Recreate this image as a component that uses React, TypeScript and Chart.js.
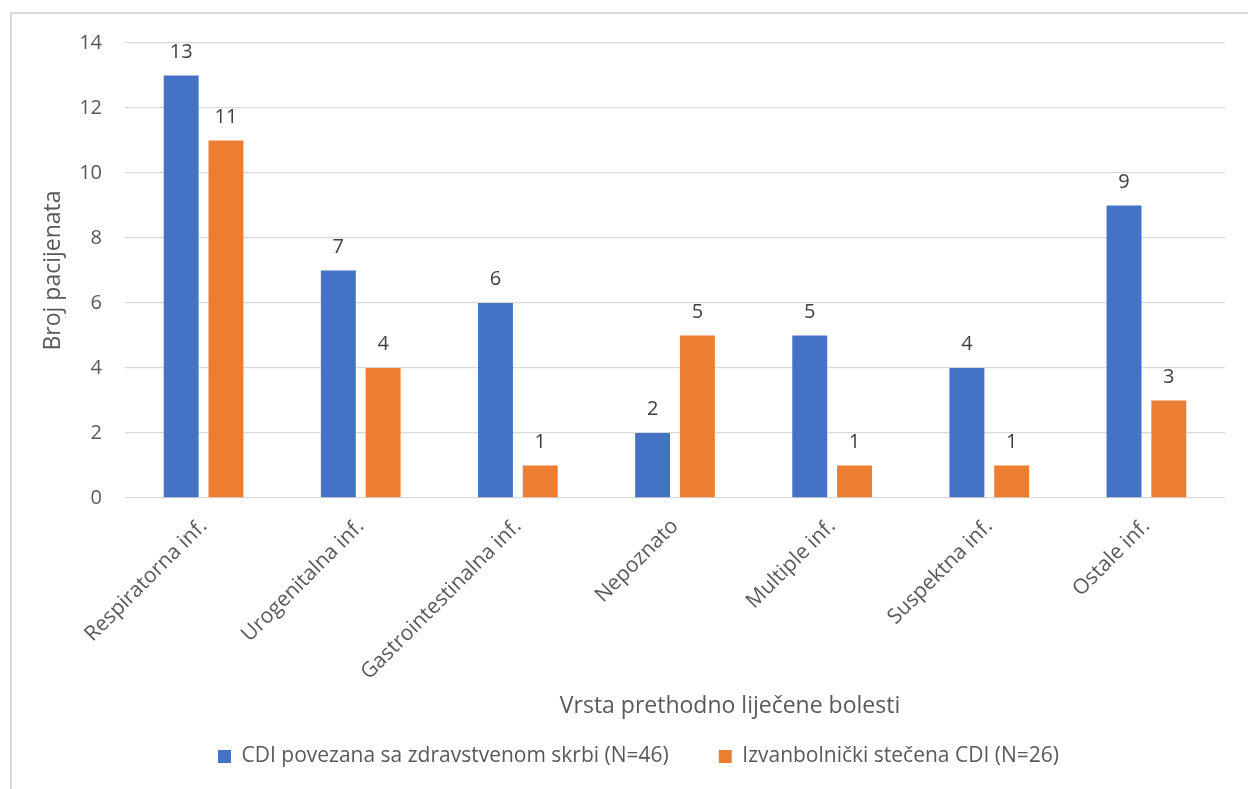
import React, { useEffect, useRef } from "react";
import { Chart, registerables } from "chart.js";

Chart.register(...registerables);

const categories = [
  "Respiratorna inf.",
  "Urogenitalna inf.",
  "Gastrointestinalna inf.",
  "Nepoznato",
  "Multiple inf.",
  "Suspektna inf.",
  "Ostale inf.",
];
const healthcareValues = [13, 7, 6, 2, 5, 4, 9];
const communityValues = [11, 4, 1, 5, 1, 1, 3];
const seriesLabels = [
  "CDI povezana sa zdravstvenom skrbi (N=46)",
  "Izvanbolnički stečena CDI (N=26)",
];
const seriesColors = ["#4472C4", "#ED7D31"];
const yMin = 0;
const yMax = 14;
const yStep = 2;
const xTitle = "Vrsta prethodno liječene bolesti";
const yTitle = "Broj pacijenata";

const FONT = "'Open Sans', sans-serif";
const TEXT = "#595959";

const dataLabelPlugin = {
  id: "dataLabels",
  afterDatasetsDraw(chart: any) {
    const ctx = chart.ctx;
    ctx.save();
    ctx.font = `20px ${FONT}`;
    ctx.fillStyle = "#404040";
    ctx.textAlign = "center";
    ctx.textBaseline = "alphabetic";
    chart.data.datasets.forEach((ds: any, i: number) => {
      const meta = chart.getDatasetMeta(i);
      meta.data.forEach((bar: any, j: number) => {
        ctx.fillText(String(ds.data[j]), bar.x, bar.y - 18);
      });
    });
    ctx.restore();
  },
};

const xTitlePlugin = {
  id: "xTitle",
  afterDraw(chart: any) {
    const ctx = chart.ctx;
    const area = chart.chartArea;
    ctx.save();
    ctx.font = `23px ${FONT}`;
    ctx.fillStyle = TEXT;
    ctx.textAlign = "center";
    ctx.textBaseline = "middle";
    ctx.fillText(xTitle, (area.left + area.right) / 2 + 55, area.bottom + 208);
    ctx.restore();
  },
};

const legendShiftPlugin = {
  id: "legendShift",
  afterLayout(chart: any) {
    if (chart.legend) {
      chart.legend.left += 6;
      chart.legend.right += 6;
    }
  },
};

export default function App() {
  const ref = useRef<HTMLCanvasElement | null>(null);

  useEffect(() => {
    if (!ref.current) return;
    const chart = new Chart(ref.current, {
      type: "bar",
      data: {
        labels: categories,
        datasets: [
          {
            label: seriesLabels[0],
            data: healthcareValues,
            backgroundColor: seriesColors[0],
            barPercentage: 0.78,
            categoryPercentage: 0.57,
          },
          {
            label: seriesLabels[1],
            data: communityValues,
            backgroundColor: seriesColors[1],
            barPercentage: 0.78,
            categoryPercentage: 0.57,
          },
        ],
      },
      options: {
        animation: false,
        responsive: false,
        maintainAspectRatio: false,
        layout: { padding: { left: 28, right: 23, top: 29, bottom: 12 } },
        plugins: {
          tooltip: { enabled: false },
          legend: {
            position: "bottom",
            labels: {
              boxWidth: 13,
              boxHeight: 13,
              padding: 50,
              color: TEXT,
              font: { family: FONT, size: 21 },
            },
          },
        },
        scales: {
          x: {
            grid: { display: false },
            border: { display: false },
            ticks: {
              color: TEXT,
              font: { family: FONT, size: 21 },
              maxRotation: 45,
              minRotation: 45,
              padding: 8,
              labelOffset: 0,
            },
            afterFit(scale: any) {
              scale.height = 198;
            },
          },
          y: {
            min: yMin,
            max: yMax,
            border: { display: false },
            grid: {
              color: "#d9d9d9",
              lineWidth: 1.3,
              drawTicks: true,
              tickLength: 23,
              tickColor: "rgba(0,0,0,0)",
            },
            ticks: {
              stepSize: yStep,
              color: TEXT,
              font: { family: FONT, size: 20 },
              padding: 0,
            },
            title: {
              display: true,
              text: yTitle,
              color: TEXT,
              font: { family: FONT, size: 23 },
              padding: { top: 0, bottom: 0 },
            },
            afterFit(scale: any) {
              scale.width = 85;
            },
          },
        },
      },
      plugins: [dataLabelPlugin, xTitlePlugin, legendShiftPlugin],
    });
    return () => chart.destroy();
  }, []);

  return (
    <div
      style={{
        position: "fixed",
        left: 0,
        top: 0,
        width: 1248,
        height: 789,
        overflow: "hidden",
        background: "#ffffff",
      }}
    >
      <div
        style={{
          position: "absolute",
          left: 10,
          top: 12,
          width: 1400,
          height: 1000,
          border: "2px solid #d9d9d9",
        }}
      />
      <canvas
        ref={ref}
        width={1236}
        height={775}
        style={{ position: "absolute", left: 12, top: 14, width: 1236, height: 775 }}
      />
    </div>
  );
}
